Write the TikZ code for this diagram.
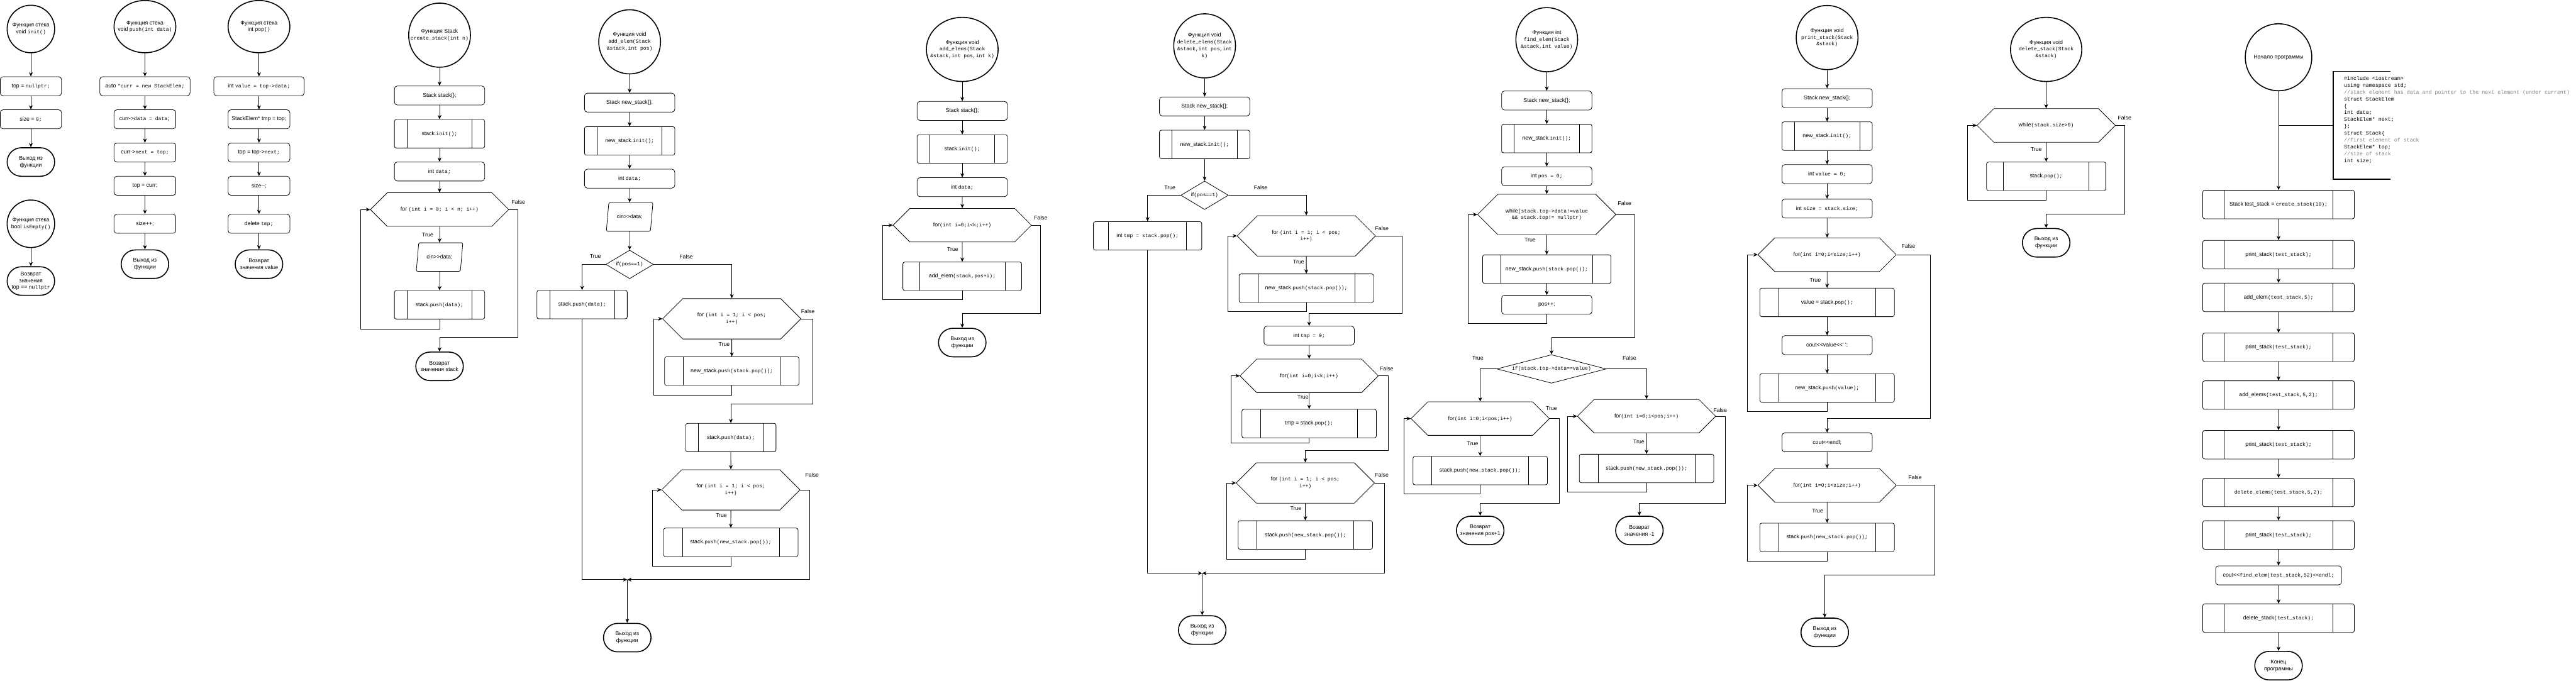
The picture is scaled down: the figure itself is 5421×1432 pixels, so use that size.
\documentclass[tikz,border=0pt]{standalone}
\usepackage{fontspec}
\setmainfont{Liberation Sans}[Ligatures=TeXOff]
\newfontfamily\codefont{Liberation Mono}[Scale=0.92]
\usetikzlibrary{shapes.geometric,shapes.misc,arrows.meta,calc}
\definecolor{noteGray}{RGB}{128,128,128}
\newcommand{\cd}[1]{{\codefont #1}}
\newcommand{\fs}{\fontsize{3.3}{4.1}\selectfont}
\tikzset{
  opbox/.style={draw, rounded corners=0.6mm, minimum width=19mm, minimum height=4mm, inner sep=0pt, line width=0.3pt},
  subbox/.style={opbox, minimum height=6mm, rounded corners=0.4mm, path picture={
      \draw[line width=0.3pt] ($(path picture bounding box.south west)!0.14!(path picture bounding box.south east)$) -- ($(path picture bounding box.north west)!0.14!(path picture bounding box.north east)$);
      \draw[line width=0.3pt] ($(path picture bounding box.south east)!0.14!(path picture bounding box.south west)$) -- ($(path picture bounding box.north east)!0.14!(path picture bounding box.north west)$);}},
  iobox/.style={trapezium, trapezium left angle=72, trapezium right angle=108, trapezium stretches=true, draw, line width=0.3pt, rounded corners=0.3mm, minimum width=9.8mm, minimum height=6mm, inner sep=0pt},
  ifbox/.style={diamond, draw, line width=0.3pt, minimum width=10mm, minimum height=6mm, inner sep=0pt},
  cyclebox/.style={chamfered rectangle, chamfered rectangle xsep=8mm, chamfered rectangle ysep=3mm, draw, line width=0.3pt, minimum width=29.1mm, minimum height=6mm, inner sep=0pt, align=center},
  endbox/.style={draw, rounded corners=3mm, line width=0.6pt, minimum width=10mm, minimum height=6mm, inner sep=0pt, align=center},
  beginbox/.style={ellipse, draw, line width=0.6pt, minimum width=13mm, minimum height=13.5mm, inner sep=0pt},
  flow/.style={-{Stealth[length=0.9mm,width=0.8mm]}, line width=0.3pt},
  tf/.style={inner sep=0pt},
  notetxt/.style={anchor=north west, align=left, inner sep=0pt, font=\codefont\fontsize{3.4}{4.1}\selectfont},
  notebr/.style={line width=0.6pt},
}
\begin{document}
\begin{tikzpicture}[x=0.1mm, y=-0.1mm, font=\fs]
\useasboundingbox (0,0) rectangle (5421,1432);
% init
\node[beginbox, minimum width=10mm, minimum height=10mm, label={[align=center]center:{Функция стека\\void \cd{init()}}}] (in0) at (65,61) {};
\node[opbox, minimum width=12.9mm] (in1) at (65,181.5) {top = \cd{nullptr;}};
\node[opbox, minimum width=12.9mm] (in2) at (65,251) {size = \cd{0;}};
\node[endbox] (in3) at (65,341) {Выход из\\функции};
\draw[flow] (in0) -- (in1);
\draw[flow] (in1) -- (in2);
\draw[flow] (in2) -- (in3);
% isEmpty
\node[beginbox, minimum width=10mm, minimum height=10mm, label={[align=center]center:{Функция стека\\bool \cd{isEmpty()}}}] (em0) at (65,471) {};
\node[endbox] (em1) at (65,591.5) {Возврат\\значения\\top == \cd{nullptr}};
\draw[flow] (em0) -- (em1);
% push
\node[beginbox, minimum height=11mm, label={[align=center]center:{Функция стека\\void \cd{push(int data)}}}] (pu0) at (305,56) {};
\node[opbox] (pu1) at (305,181.5) {auto \cd{*curr = new StackElem;}};
\node[opbox, minimum width=13mm] (pu2) at (305,251) {curr->\cd{data = data;}};
\node[opbox, minimum width=13mm] (pu3) at (305,321) {curr->\cd{next = top;}};
\node[opbox, minimum width=13mm] (pu4) at (305,391) {top = curr;};
\node[opbox, minimum width=13mm] (pu5) at (305,471) {size++;};
\node[endbox] (pu6) at (305,556) {Выход из\\функции};
\draw[flow] (pu0) -- (pu1);
\draw[flow] (pu1) -- (pu2);
\draw[flow] (pu2) -- (pu3);
\draw[flow] (pu3) -- (pu4);
\draw[flow] (pu4) -- (pu5);
\draw[flow] (pu5) -- (pu6);
% pop
\node[beginbox, minimum height=11mm, label={[align=center]center:{Функция стека\\int \cd{pop()}}}] (po0) at (545,56) {};
\node[opbox] (po1) at (545,181.5) {int \cd{value = top->data;}};
\node[opbox, minimum width=13mm] (po2) at (545,251) {StackElem* tmp = top;};
\node[opbox, minimum width=13mm] (po3) at (545,321) {top = top->\cd{next;}};
\node[opbox, minimum width=13mm] (po4) at (545,391) {size--;};
\node[opbox, minimum width=13mm] (po5) at (545,471) {delete \cd{tmp;}};
\node[endbox] (po6) at (545,556) {Возврат\\значения value};
\draw[flow] (po0) -- (po1);
\draw[flow] (po1) -- (po2);
\draw[flow] (po2) -- (po3);
\draw[flow] (po3) -- (po4);
\draw[flow] (po4) -- (po5);
\draw[flow] (po5) -- (po6);
% create_stack
\node[beginbox, label={[align=center]center:{Функция Stack\\\cd{create\_stack(int n)}}}] (cs0) at (925,74) {};
\node[opbox] (cs1) at (925,201) {Stack stack\{\};};
\node[subbox] (cs2) at (925,281.5) {stack.\cd{init();}};
\node[opbox] (cs3) at (925,361) {int \cd{data;}};
\node[cyclebox] (cs4) at (925,441) {for \cd{(int i = 0; i < n; i++)}};
\node[iobox] (cs5) at (925,541) {cin>>data;};
\node[subbox] (cs6) at (925,641.5) {stack.\cd{push(data);}};
\node[endbox] (cs7) at (925,771) {Возврат\\значения stack};
\node[tf] (cs4t) at (900,495) {True};
\node[tf] (cs4f) at (1091,425) {False};
\draw[flow] (cs0) -- (cs1);
\draw[flow] (cs1) -- (cs2);
\draw[flow] (cs2) -- (cs3);
\draw[flow] (cs3) -- (cs4);
\draw[flow] (cs4) -- (cs5);
\draw[flow] (cs5) -- (cs6);
\draw[flow] (cs6.south) -- ++(0,20) -| ($(cs4.west)+(-20,0)$) -- (cs4.west);
\draw[flow] (cs4.east) -- ++(19,0) |- ($(cs7.north)+(0,-30)$) -- (cs7.north);
% add_elem
\node[beginbox, label={[align=center]center:{Функция void\\\cd{add\_elem(Stack}\\\cd{\&stack,int pos)}}}] (ae0) at (1325,88) {};
\node[opbox] (ae1) at (1325,216) {Stack new\_stack\{\};};
\node[subbox] (ae2) at (1325,296.5) {new\_stack.\cd{init();}};
\node[opbox] (ae3) at (1325,376) {int \cd{data;}};
\node[iobox] (ae4) at (1325,456.5) {cin>>data;};
\node[ifbox, label={center:{if\cd{(pos==1)}}}] (ae5) at (1325,556.5) {};
\node[subbox] (ae6) at (1225,641) {stack.\cd{push(data);}};
\node[cyclebox] (ae7) at (1540,671) {for \cd{(int i = 1; i < pos;}\\\cd{i++)}};
\node[subbox, minimum width=28.3mm] (ae8) at (1540,781) {new\_stack.\cd{push(stack.pop());}};
\node[subbox] (ae9) at (1538,921) {stack.\cd{push(data);}};
\node[cyclebox] (ae10) at (1538,1031) {for \cd{(int i = 1; i < pos;}\\\cd{i++)}};
\node[subbox, minimum width=28.3mm] (ae11) at (1538,1141.5) {stack.\cd{push(new\_stack.pop());}};
\node[endbox] (ae12) at (1320,1342) {Выход из\\функции};
\coordinate (aem) at (1320,1220);
\node[tf] (ae5t) at (1253,540) {True};
\node[tf] (ae5f) at (1444,540) {False};
\node[tf] (ae7f) at (1700,655) {False};
\node[tf] (ae7t) at (1524,725) {True};
\node[tf] (ae10f) at (1709,1000) {False};
\node[tf] (ae10t) at (1518,1085) {True};
\draw[flow] (ae0) -- (ae1);
\draw[flow] (ae1) -- (ae2);
\draw[flow] (ae2) -- (ae3);
\draw[flow] (ae3) -- (ae4);
\draw[flow] (ae4) -- (ae5);
\draw[flow] (ae5.west) -| (ae6.north);
\draw[flow] (ae5.east) -| (ae7.north);
\draw[flow] (ae7) -- (ae8);
\draw[flow] (ae8.south) -- ++(0,20) -| ($(ae7.west)+(-19,0)$) -- (ae7.west);
\draw[flow] (ae7.east) -- ++(25,0) |- ($(ae9.north)+(0,-40)$) -- (ae9.north);
\draw[flow] (ae9) -- (ae10);
\draw[flow] (ae10) -- (ae11);
\draw[flow] (ae11.south) -- ++(0,19) -| ($(ae10.west)+(-19,0)$) -- (ae10.west);
\draw[flow] (ae10.east) -- ++(20,0) |- (aem);
\draw[flow] (ae6.south) |- (aem);
\draw[flow] (aem) -- (ae12);
% add_elems
\node[beginbox, minimum width=15.1mm, label={[align=center]center:{Функция void\\\cd{add\_elems(Stack}\\\cd{\&stack,int pos,int k)}}}] (as0) at (2025,104) {};
\node[opbox] (as1) at (2025,233.5) {Stack stack\{\};};
\node[subbox] (as2) at (2025,313.5) {stack.\cd{init();}};
\node[opbox] (as3) at (2025,394) {int \cd{data;}};
\node[cyclebox] (as4) at (2025,474) {for\cd{(int i=0;i<k;i++)}};
\node[subbox, minimum width=25mm] (as5) at (2025,581.5) {add\_elem\cd{(stack,pos+i);}};
\node[endbox] (as6) at (2025,721) {Выход из\\функции};
\node[tf] (as4f) at (2190,458) {False};
\node[tf] (as4t) at (2005,525) {True};
\draw[flow] (as0) -- (as1);
\draw[flow] (as1) -- (as2);
\draw[flow] (as2) -- (as3);
\draw[flow] (as3) -- (as4);
\draw[flow] (as4) -- (as5);
\draw[flow] (as5.south) -- ++(0,19) -| ($(as4.west)+(-21,0)$) -- (as4.west);
\draw[flow] (as4.east) -- ++(19,0) |- ($(as6.north)+(0,-30)$) -- (as6.north);
% delete_elems
\node[beginbox, label={[align=center]center:{Функция void\\\cd{delete\_elems(Stack}\\\cd{\&stack,int pos,int}\\\cd{k)}}}] (de0) at (2535,96.5) {};
\node[opbox] (de1) at (2535,224) {Stack new\_stack\{\};};
\node[subbox] (de2) at (2535,304) {new\_stack.\cd{init();}};
\node[ifbox, label={center:{if\cd{(pos==1)}}}] (de3) at (2535,411) {};
\node[subbox, minimum width=22.8mm] (de4) at (2415,496.5) {int \cd{tmp = stack.pop();}};
\node[cyclebox] (de5) at (2749,496.5) {for \cd{(int i = 1; i < pos;}\\\cd{i++)}};
\node[subbox, minimum width=28.3mm] (de6) at (2749,606.5) {new\_stack.\cd{push(stack.pop());}};
\node[opbox] (de7) at (2755,706.5) {int \cd{tmp = 0;}};
\node[cyclebox] (de8) at (2755,791) {for\cd{(int i=0;i<k;i++)}};
\node[subbox, minimum width=28.3mm] (de9) at (2755,891.5) {tmp = stack.\cd{pop();}};
\node[cyclebox] (de10) at (2747,1016.5) {for \cd{(int i = 1; i < pos;}\\\cd{i++)}};
\node[subbox, minimum width=28.3mm] (de11) at (2747,1126) {stack.\cd{push(new\_stack.pop());}};
\node[endbox] (de12) at (2530,1326) {Выход из\\функции};
\coordinate (dem) at (2530,1206.5);
\node[tf] (de3t) at (2462,395) {True};
\node[tf] (de3f) at (2653,395) {False};
\node[tf] (de5f) at (2908,481) {False};
\node[tf] (de5t) at (2733,551) {True};
\node[tf] (de8f) at (2918,776) {False};
\node[tf] (de8t) at (2742,836) {True};
\node[tf] (de10f) at (2908,1000) {False};
\node[tf] (de10t) at (2727,1070) {True};
\draw[flow] (de0) -- (de1);
\draw[flow] (de1) -- (de2);
\draw[flow] (de2) -- (de3);
\draw[flow] (de3.west) -| (de4.north);
\draw[flow] (de3.east) -| (de5.north);
\draw[flow] (de5) -- (de6);
\draw[flow] (de6.south) -- ++(0,19) -| ($(de5.west)+(-19,0)$) -- (de5.west);
\draw[flow] (de5.east) -- ++(56,0) |- ($(de7.north)+(0,-26)$) -- (de7.north);
\draw[flow] (de7) -- (de8);
\draw[flow] (de8) -- (de9);
\draw[flow] (de9.south) -- ++(0,10) -| ($(de8.west)+(-19,0)$) -- (de8.west);
\draw[flow] (de8.east) -- ++(20,0) |- ($(de10.north)+(0,-26)$) -- (de10.north);
\draw[flow] (de10) -- (de11);
\draw[flow] (de11.south) -- ++(0,20) -| ($(de10.west)+(-20,0)$) -- (de10.west);
\draw[flow] (de10.east) -- ++(20,0) |- (dem);
\draw[flow] (de4.south) |- (dem);
\draw[flow] (dem) -- (de12);
% find_elem
\node[beginbox, label={[align=center]center:{Функция int\\\cd{find\_elem(Stack}\\\cd{\&stack,int value)}}}] (fe0) at (3255,83.5) {};
\node[opbox] (fe1) at (3255,211.5) {Stack new\_stack\{\};};
\node[subbox] (fe2) at (3255,291.5) {new\_stack.\cd{init();}};
\node[opbox] (fe3) at (3255,371) {int \cd{pos = 0;}};
\node[cyclebox] (fe4) at (3255,451.5) {while\cd{(stack.top->data!=value}\\\cd{\&\& stack.top!= nullptr)}};
\node[subbox, minimum width=27mm] (fe5) at (3255,566.5) {new\_stack.\cd{push(stack.pop());}};
\node[opbox] (fe6) at (3255,641.5) {pos++;};
\node[ifbox, minimum width=23mm, label={center:{\cd{if(stack.top->data==value)}}}] (fe7) at (3265,776.5) {};
\node[cyclebox] (fe8) at (3115,881) {for\cd{(int i=0;i<pos;i++)}};
\node[subbox, minimum width=28.3mm] (fe9) at (3115,990.5) {stack.\cd{push(new\_stack.pop());}};
\node[endbox] (fe10) at (3115,1116.5) {Возврат\\значения pos+1};
\node[cyclebox] (fe11) at (3465,876) {for\cd{(int i=0;i<pos;i++)}};
\node[subbox, minimum width=28.3mm] (fe12) at (3465,986) {stack.\cd{push(new\_stack.pop());}};
\node[endbox] (fe13) at (3450,1116.5) {Возврат\\значения -1};
\node[tf] (fe4f) at (3419,428) {False};
\node[tf] (fe4t) at (3220,505) {True};
\node[tf] (fe7t) at (3110,754) {True};
\node[tf] (fe7f) at (3429,754) {False};
\node[tf] (fe8x) at (3265,859) {True};
\node[tf] (fe8t) at (3099,934) {True};
\node[tf] (fe11f) at (3620,863) {False};
\node[tf] (fe11t) at (3449,930) {True};
\draw[flow] (fe0) -- (fe1);
\draw[flow] (fe1) -- (fe2);
\draw[flow] (fe2) -- (fe3);
\draw[flow] (fe3) -- (fe4);
\draw[flow] (fe4) -- (fe5);
\draw[flow] (fe5) -- (fe6);
\draw[flow] (fe6.south) -- ++(0,19) -| ($(fe4.west)+(-19,0)$) -- (fe4.west);
\draw[flow] (fe4.east) -- ++(39,0) |- ($(fe7.north)+(0,-36)$) -- (fe7.north);
\draw[flow] (fe7.west) -| (fe8.north);
\draw[flow] (fe7.east) -| (fe11.north);
\draw[flow] (fe8) -- (fe9);
\draw[flow] (fe9.south) -- ++(0,19) -| ($(fe8.west)+(-14,0)$) -- (fe8.west);
\draw[flow] (fe8.east) -- ++(20,0) |- ($(fe10.north)+(0,-26)$) -- (fe10.north);
\draw[flow] (fe11) -- (fe12);
\draw[flow] (fe12.south) -- ++(0,19) -| ($(fe11.west)+(-20,0)$) -- (fe11.west);
\draw[flow] (fe11.east) -- ++(20,0) |- ($(fe13.north)+(0,-26)$) -- (fe13.north);
% print_stack
\node[beginbox, label={[align=center]center:{Функция void\\\cd{print\_stack(Stack}\\\cd{\&stack)}}}] (ps0) at (3845,79) {};
\node[opbox] (ps1) at (3845,206.5) {Stack new\_stack\{\};};
\node[subbox] (ps2) at (3845,286.5) {new\_stack.\cd{init();}};
\node[opbox] (ps3) at (3845,366.5) {int \cd{value = 0;}};
\node[opbox] (ps4) at (3845,439) {int \cd{size = stack.size;}};
\node[cyclebox] (ps5) at (3845,536) {for\cd{(int i=0;i<size;i++)}};
\node[subbox, minimum width=28.3mm] (ps6) at (3845,636.5) {value = stack.\cd{pop();}};
\node[opbox] (ps7) at (3845,726.5) {cout<<value<<' ';};
\node[subbox, minimum width=28.3mm] (ps8) at (3845,816.5) {new\_stack.\cd{push(value);}};
\node[opbox] (ps9) at (3845,931) {cout<<endl;};
\node[cyclebox] (ps10) at (3845,1021.5) {for\cd{(int i=0;i<size;i++)}};
\node[subbox, minimum width=28.3mm] (ps11) at (3845,1131) {stack.\cd{push(new\_stack.pop());}};
\node[endbox] (ps12) at (3840,1331) {Выход из\\функции};
\node[tf] (ps5f) at (4016,518) {False};
\node[tf] (ps5t) at (3820,590) {True};
\node[tf] (ps10f) at (4030,1005) {False};
\node[tf] (ps10t) at (3825,1076) {True};
\draw[flow] (ps0) -- (ps1);
\draw[flow] (ps1) -- (ps2);
\draw[flow] (ps2) -- (ps3);
\draw[flow] (ps3) -- (ps4);
\draw[flow] (ps4) -- (ps5);
\draw[flow] (ps5) -- (ps6);
\draw[flow] (ps6) -- (ps7);
\draw[flow] (ps7) -- (ps8);
\draw[flow] (ps8.south) -- ++(0,19) -| ($(ps5.west)+(-22,0)$) -- (ps5.west);
\draw[flow] (ps5.east) -- ++(71,0) |- ($(ps9.north)+(0,-30)$) -- (ps9.north);
\draw[flow] (ps9) -- (ps10);
\draw[flow] (ps10) -- (ps11);
\draw[flow] (ps11.south) -- ++(0,19) -| ($(ps10.west)+(-22,0)$) -- (ps10.west);
\draw[flow] (ps10.east) -- ++(80,0) |- ($(ps12.north)+(0,-90)$) -- (ps12.north);
% delete_stack
\node[beginbox, minimum width=15mm, label={[align=center]center:{Функция void\\\cd{delete\_stack(Stack}\\\cd{\&stack)}}}] (ds0) at (4306,104) {};
\node[cyclebox] (ds1) at (4306,264) {while\cd{(stack.size>0)}};
\node[subbox, minimum width=25.1mm] (ds2) at (4306,371) {stack.\cd{pop();}};
\node[endbox] (ds3) at (4306,511) {Выход из\\функции};
\node[tf] (ds1f) at (4471,248) {False};
\node[tf] (ds1t) at (4285,315) {True};
\draw[flow] (ds0) -- (ds1);
\draw[flow] (ds1) -- (ds2);
\draw[flow] (ds2.south) -- ++(0,20) -| ($(ds1.west)+(-20,0)$) -- (ds1.west);
\draw[flow] (ds1.east) -- ++(19,0) |- ($(ds3.north)+(0,-30)$) -- (ds3.north);
% main
\node[beginbox, minimum width=14mm, minimum height=14.1mm, label={center:Начало программы}] (mn0) at (4795,120.5) {};
\node[subbox, minimum width=31.9mm] (mn1) at (4795,430.5) {Stack test\_stack = \cd{create\_stack(10);}};
\node[subbox, minimum width=31.9mm] (mn2) at (4795,536) {print\_stack\cd{(test\_stack);}};
\node[subbox, minimum width=31.9mm] (mn3) at (4795,626) {add\_elem\cd{(test\_stack,5);}};
\node[subbox, minimum width=31.9mm] (mn4) at (4795,731) {print\_stack\cd{(test\_stack);}};
\node[subbox, minimum width=31.9mm] (mn5) at (4795,831.5) {add\_elems\cd{(test\_stack,5,2);}};
\node[subbox, minimum width=31.9mm] (mn6) at (4795,936) {print\_stack\cd{(test\_stack);}};
\node[subbox, minimum width=31.9mm] (mn7) at (4795,1036.5) {\cd{delete\_elems(test\_stack,5,2);}};
\node[subbox, minimum width=31.9mm] (mn8) at (4795,1126) {print\_stack\cd{(test\_stack);}};
\node[opbox, minimum width=26.5mm] (mn9) at (4795,1211) {cout<<\cd{find\_elem(test\_stack,52)<<endl;}};
\node[subbox, minimum width=31.9mm] (mn10) at (4795,1301) {delete\_stack\cd{(test\_stack);}};
\node[endbox] (mn11) at (4795,1401) {Конец\\программы};
\draw[flow] (mn0) -- (mn1);
\draw[flow] (mn1) -- (mn2);
\draw[flow] (mn2) -- (mn3);
\draw[flow] (mn3) -- (mn4);
\draw[flow] (mn4) -- (mn5);
\draw[flow] (mn5) -- (mn6);
\draw[flow] (mn6) -- (mn7);
\draw[flow] (mn7) -- (mn8);
\draw[flow] (mn8) -- (mn9);
\draw[flow] (mn9) -- (mn10);
\draw[flow] (mn10) -- (mn11);
% code note
\node[notetxt] (mnote) at (4932,160) {\#include <iostream>\\using namespace std;\\\textcolor{noteGray}{//stack element has data and pointer to the next element (under current)}\\struct StackElem\\\{\\int data;\\StackElem* next;\\\};\\struct Stack\{\\\textcolor{noteGray}{//first element of stack}\\StackElem* top;\\\textcolor{noteGray}{//size of stack}\\int size;};
\coordinate (mnj) at (4795,264);
\coordinate (mnb) at (4910,264);
\draw[notebr] (mnj) -- (mnb);
\draw[notebr] (5030,150) -- (4910,150) -- (4910,377) -- (5030,377);
\end{tikzpicture}
\end{document}
